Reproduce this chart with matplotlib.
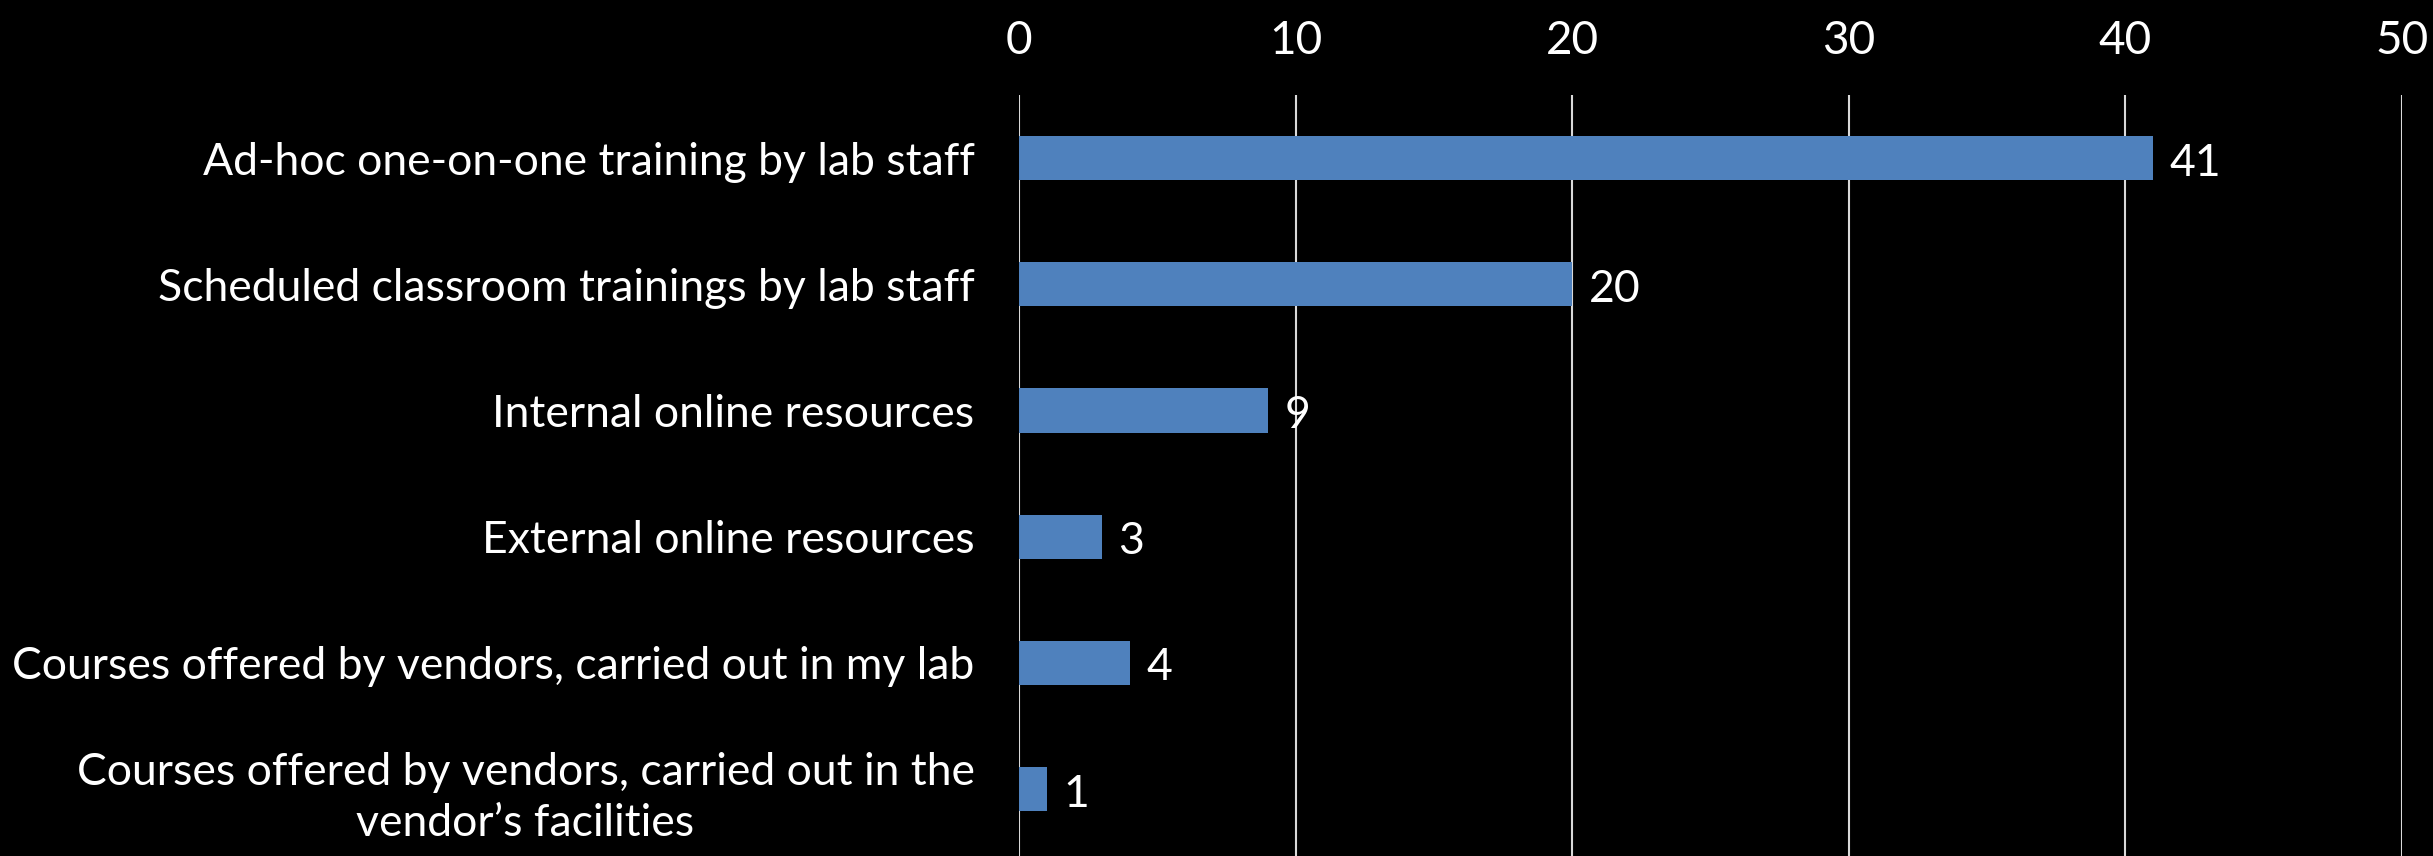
import matplotlib
matplotlib.use("Agg")
import matplotlib.pyplot as plt

categories = [
    "Ad-hoc one-on-one training by lab staff",
    "Scheduled classroom trainings by lab staff",
    "Internal online resources",
    "External online resources",
    "Courses offered by vendors, carried out in my lab",
    "Courses offered by vendors, carried out in the\nvendor\u2019s facilities",
]
values = [41, 20, 9, 3, 4, 1]
xticks = [0, 10, 20, 30, 40, 50]

plt.rcParams['font.family'] = ['Lato', 'DejaVu Sans']
W, H = 2433, 856
fig = plt.figure(figsize=(W/100, H/100), dpi=100, facecolor='black')
ax = fig.add_axes([1019/W, 0.0, (2402-1019)/W, (856-95)/H])
ax.set_facecolor('black')

y = list(range(len(categories)))
ax.barh(y, values, height=0.35, color='#4F81BD', zorder=3)
ax.set_ylim(len(categories)-0.5+0.03, -0.5)
ax.set_xlim(0, 50)
ax.set_xticks(xticks)
ax.xaxis.tick_top()
ax.tick_params(axis='x', length=0, pad=24, labelsize=33, colors='white')
ax.set_yticks(y)
ax.set_yticklabels(categories)
ax.tick_params(axis='y', length=0, pad=32, labelsize=32, colors='white')
for lbl in ax.get_yticklabels():
    lbl.set_multialignment('center')
    lbl.set_linespacing(1.3)
ax.grid(axis='x', color='#D9D9D9', linewidth=1.5, zorder=1)
for s in ax.spines.values():
    s.set_visible(False)
for yi, v in zip(y, values):
    ax.text(v + 0.6, yi + 0.04, str(v), va='center', ha='left', color='white', fontsize=32)
fig.savefig('out.png', dpi=100, facecolor='black')
